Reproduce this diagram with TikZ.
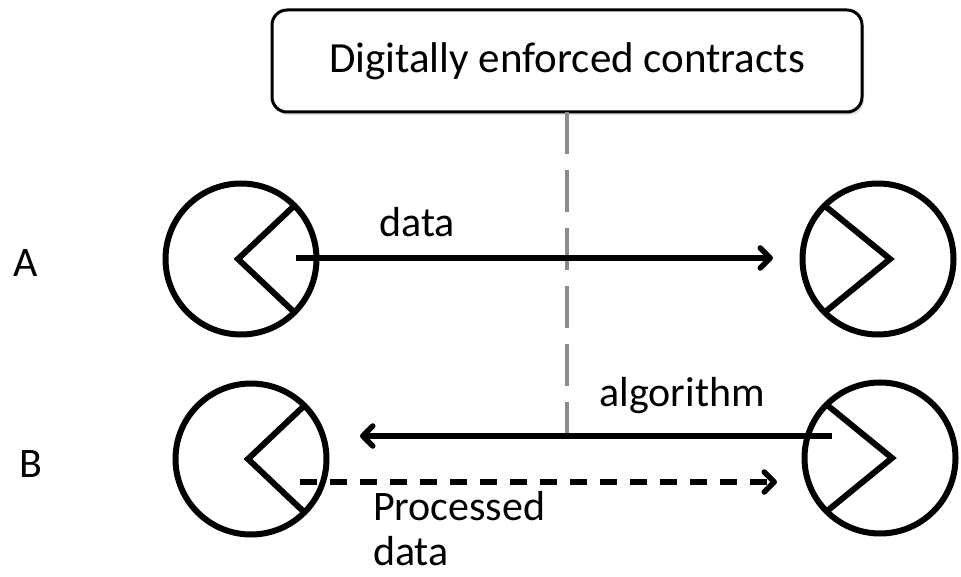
\documentclass[tikz,border=0pt]{standalone}
\usepackage{fontspec}
\setmainfont{Carlito}
\usetikzlibrary{positioning,calc,shadows,arrows.meta}
\definecolor{contractgray}{HTML}{8C8C8C}

\begin{document}
\begin{tikzpicture}[x=1pt,y=1pt]
    \tikzstyle{every node}=[inner sep=0,outer sep=0,font=\fontsize{42}{48}\selectfont]
    \tikzstyle{note}=[anchor=base]
    \tikzstyle{party}=[draw,circle,line width=6pt,minimum size=151pt]
    \tikzstyle{wedge}=[line width=6pt]
    \tikzstyle{flow}=[line width=5.5pt,-{Straight Barb[length=10pt,width=20pt,round]}]
    \tikzstyle{contract}=[draw,fill=white,rounded corners=15pt,line width=3pt,
        minimum width=590pt,minimum height=102pt,font=\fontsize{43}{50}\selectfont,
        drop shadow={opacity=0.25,shadow xshift=2pt,shadow yshift=-3pt}]
    {
        \useasboundingbox (0,0) rectangle (961,576);

        \node[contract] (contract) at (567,515) {Digitally enforced contracts};

        \node[party] (al) at (241,317) {};
        \node[party] (ar) at (878,317) {};
        \node[party] (bl) at (251,117) {};
        \node[party] (br) at (880,118) {};

        \draw[wedge] (al.45) -- ($(al)+(-3,0)$) -- (al.-45);
        \draw[wedge] (bl.45) -- ($(bl)+(-3,0)$) -- (bl.-45);
        \draw[wedge] (ar.135) -- ($(ar)+(12,0)$) -- (ar.225);
        \draw[wedge] (br.135) -- ($(br)+(12,0)$) -- (br.225);

        \node[note] (la) at (26,299) {A};
        \node[note] (lb) at (31,99) {B};
        \node[note] (ldata) at (417,339) {data};
        \node[note] (lalg) at (682,169) {algorithm};
        \node[anchor=south west,align=left,font=\fontsize{42}{45}\selectfont] (lproc) at (373,10) {Processed\\data};

        \coordinate (dataS) at ($(al)+(55,1)$);
        \coordinate (dataE) at ($(ar)+(-105,1)$);
        \coordinate (algS) at ($(br)+(-48,22)$);
        \coordinate (algE) at ($(bl)+(109,23)$);
        \coordinate (procS) at ($(bl)+(49,-23)$);
        \coordinate (procE) at ($(br)+(-103,-24)$);

        \draw[contractgray,line width=4.5pt,dash pattern=on 42pt off 16pt]
            (contract.south) -- (contract.south |- algS);

        \draw[flow] (dataS) -- (dataE);
        \draw[flow] (algS) -- (algE);
        \draw[flow,dash pattern=on 17pt off 13pt] (procS) -- (procE);
    }
\end{tikzpicture}
\end{document}
